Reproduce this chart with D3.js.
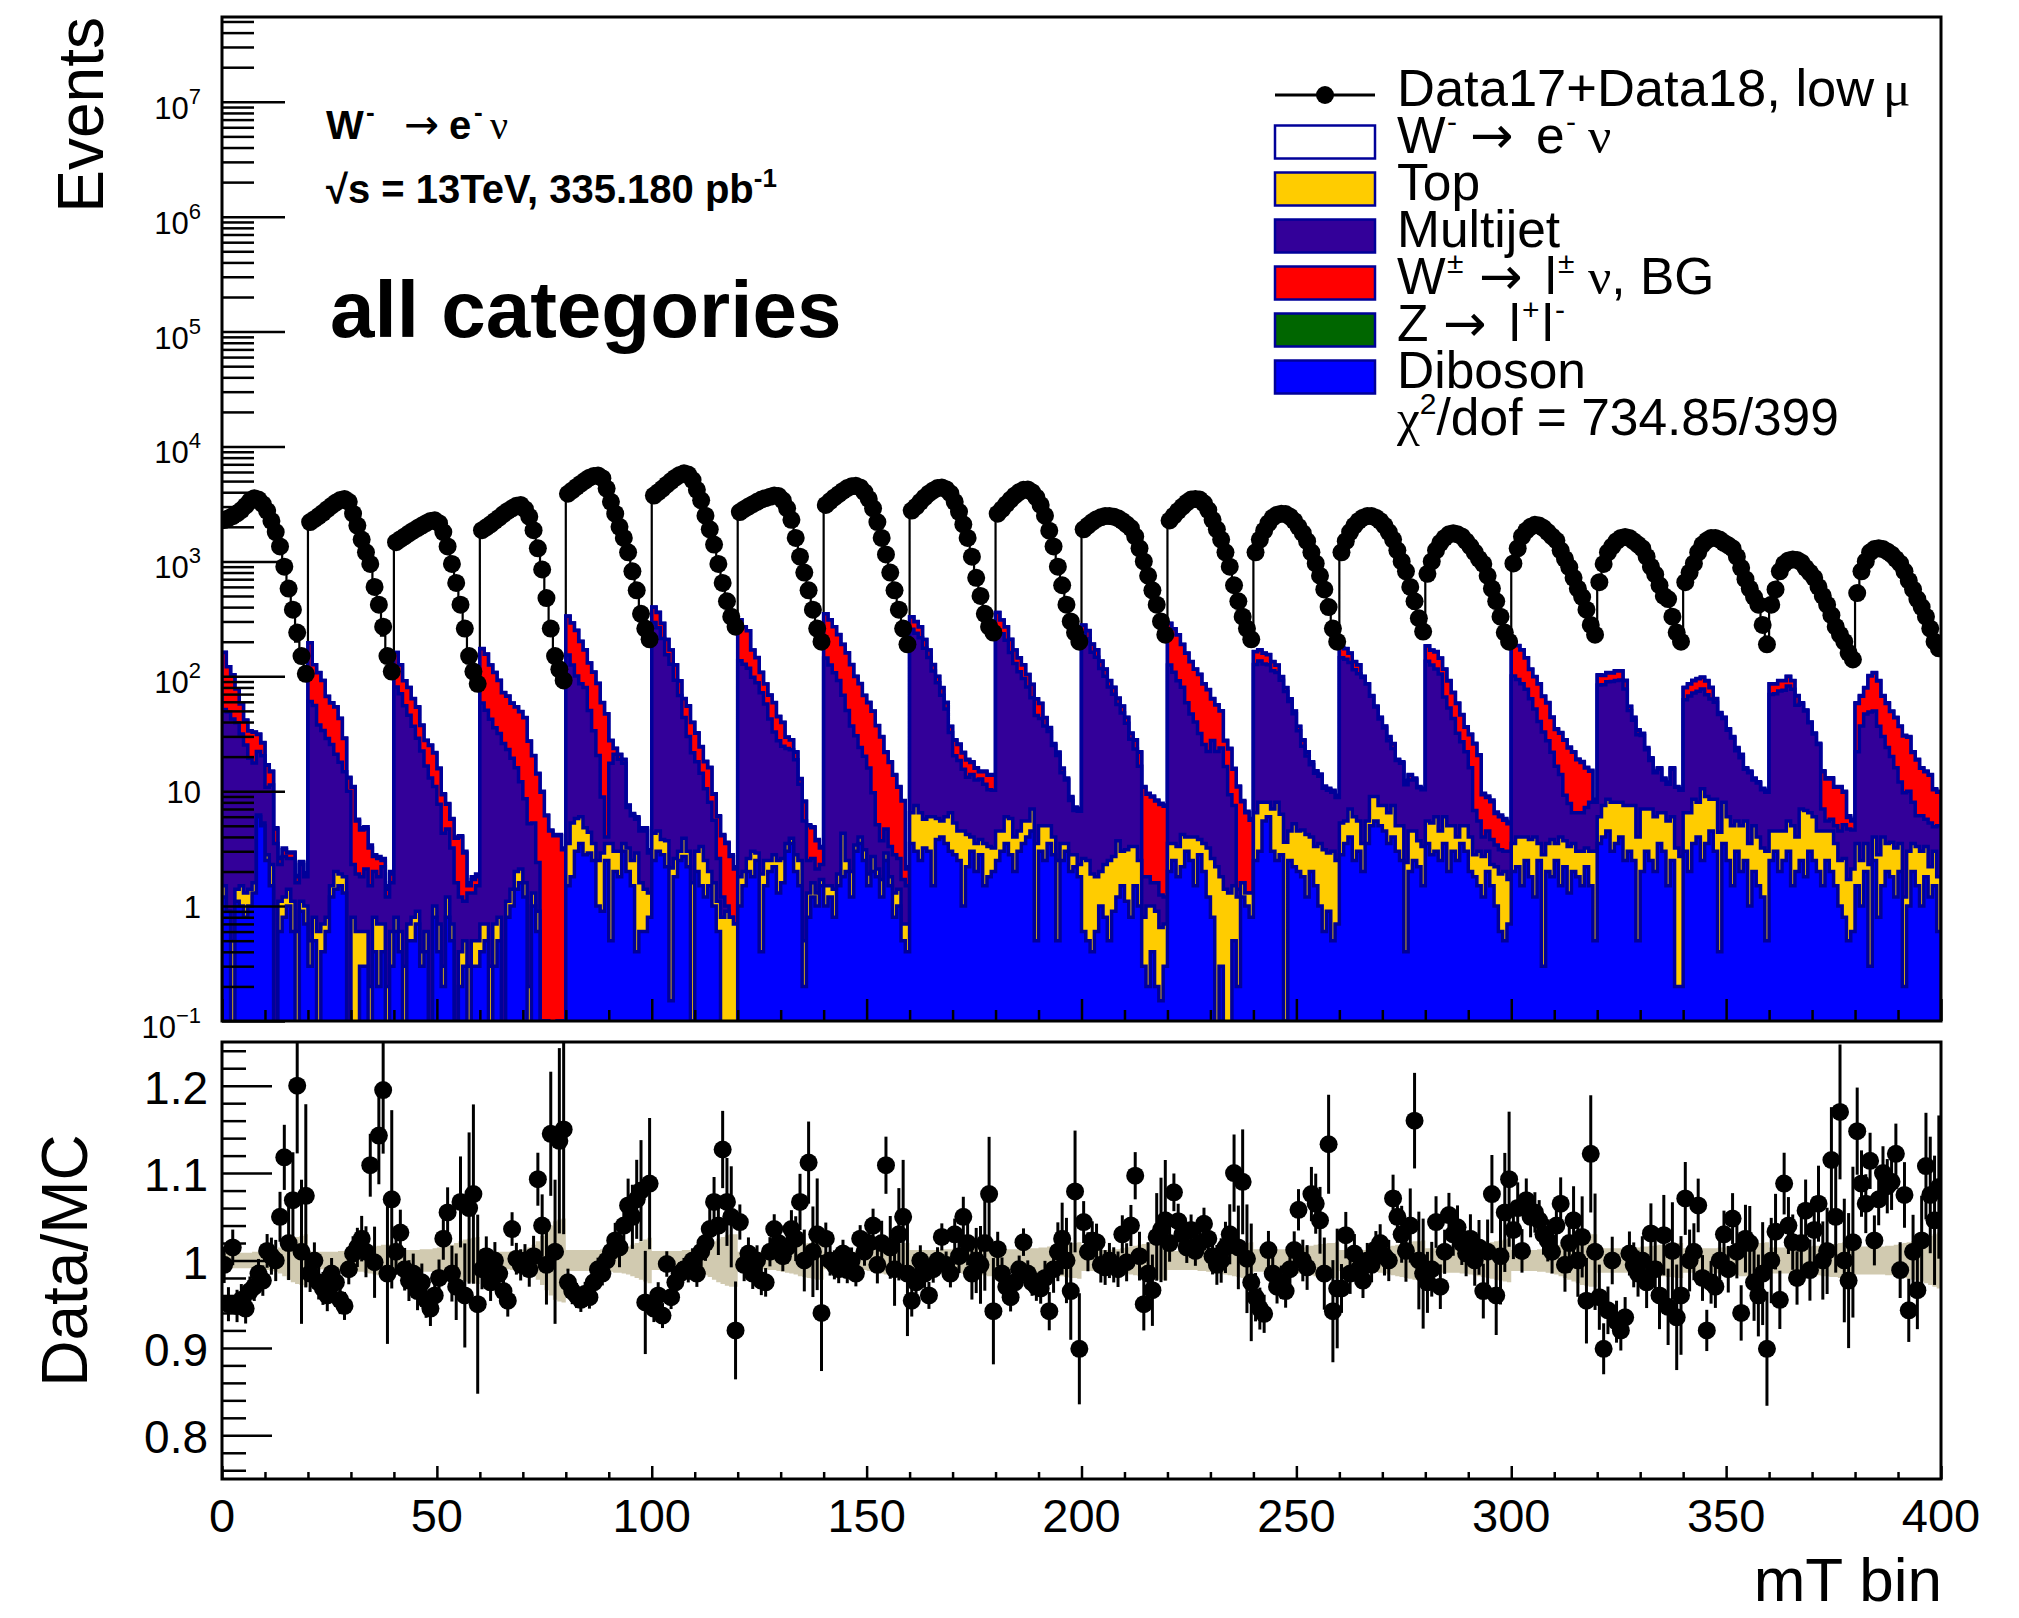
<!DOCTYPE html>
<html>
<head>
<meta charset="utf-8">
<script src="https://cdn.jsdelivr.net/npm/d3@7"></script>
<style>
  body { margin: 0; background: #fff; }
  text { font-family: "Liberation Sans", Arial, Helvetica, sans-serif; fill: #000; }
  .greek { font-family: "Liberation Serif", "DejaVu Serif", serif; }
  .arrow { font-family: "DejaVu Sans", sans-serif; font-weight: normal; }
</style>
</head>
<body>
<svg id="c" width="2019" height="1618"></svg>
<script>
// ---- per-bin contents: 20 categories x 20 mT bins ----
const dataCounts = [
2290,2380,2480,2620,2800,3050,3350,3550,3450,3150,2750,2250,1800,1350,900,580,380,240,150,105,
2200,2330,2480,2650,2850,3050,3250,3420,3500,3300,2600,2050,1550,1200,950,600,420,270,150,110,
1470,1560,1650,1750,1850,1950,2050,2150,2250,2280,2150,1800,1350,950,650,420,260,150,110,86,
1870,1980,2100,2250,2400,2580,2750,2900,3050,3100,2850,2450,1870,1300,850,480,260,150,115,92,
3880,4150,4450,4750,5050,5350,5550,5600,5300,4300,3300,2600,2000,1600,1200,820,560,350,260,210,
3740,4000,4300,4650,5000,5350,5650,5850,5700,5100,4200,3400,2500,1900,1400,950,650,450,330,270,
2690,2850,3000,3150,3300,3450,3550,3650,3750,3700,3400,2900,2300,1600,1100,800,560,380,260,200,
3100,3350,3600,3850,4100,4350,4500,4550,4400,4000,3500,2900,2200,1600,1150,800,560,380,260,190,
2770,3000,3300,3600,3900,4150,4350,4400,4250,3900,3300,2700,2100,1600,1100,720,500,350,270,240,
2600,2850,3150,3450,3750,4000,4200,4230,4000,3600,3100,2500,1850,1350,900,620,420,300,240,200,
1900,2050,2200,2330,2420,2480,2480,2450,2380,2250,2100,1950,1650,1300,1000,750,560,420,300,230,
2270,2500,2750,3000,3250,3450,3500,3450,3200,2800,2300,1900,1550,1200,900,620,450,330,260,210,
1200,1550,1850,2150,2400,2550,2600,2580,2450,2250,2000,1760,1500,1200,960,750,570,400,260,200,
1200,1500,1800,2050,2250,2400,2480,2480,2400,2250,2050,1800,1550,1250,1000,820,600,450,320,245,
780,1000,1250,1450,1600,1720,1760,1720,1650,1500,1350,1200,1050,950,750,580,450,330,240,200,
960,1300,1650,1850,2000,2080,2050,1950,1800,1650,1520,1250,1050,890,720,580,490,380,280,230,
660,950,1200,1350,1500,1600,1630,1600,1500,1400,1300,1100,900,770,620,500,470,330,240,200,
660,800,960,1200,1400,1520,1600,1600,1550,1450,1380,1300,1100,880,700,580,490,420,280,190,
420,570,820,950,1020,1040,1030,980,880,800,720,600,500,420,340,270,230,200,160,140,
530,820,1000,1200,1280,1300,1280,1220,1150,1050,960,820,680,570,470,400,330,260,200,175
];

// data / total MC
const ratioVals = [
0.995,0.950,1.015,0.948,0.955,0.945,0.965,0.970,0.985,0.977,1.011,1.005,1.000,1.050,1.118,1.020,1.069,1.200,1.010,1.074,
0.985,1.000,0.975,0.968,0.960,0.985,0.975,0.955,0.948,0.990,1.008,1.015,1.025,1.010,1.109,0.998,1.143,1.195,0.985,1.070,
1.010,1.032,0.990,0.977,0.985,0.965,0.975,0.955,0.945,0.960,0.980,1.025,1.055,0.985,0.970,1.067,0.960,1.060,1.076,0.950,
0.990,1.005,0.975,1.000,0.985,0.965,0.954,1.036,1.002,0.995,1.000,0.990,1.005,1.093,1.040,0.995,1.145,1.010,1.137,1.150,
0.975,0.965,0.960,0.955,0.962,0.958,0.975,0.990,0.985,1.000,1.010,1.023,1.015,1.040,1.063,1.050,1.070,1.080,0.952,1.088,
0.945,0.960,0.937,0.996,0.958,0.975,0.985,0.990,0.988,1.000,0.985,1.010,1.020,1.036,1.067,1.040,1.127,1.067,1.050,0.920,
1.044,0.995,1.008,0.985,1.000,0.977,0.975,1.010,1.036,1.020,1.005,1.015,1.036,1.025,1.067,1.000,1.112,1.010,1.030,0.940,
1.025,1.000,0.995,0.990,1.008,0.989,1.000,0.985,1.025,1.010,1.020,1.040,0.995,1.020,1.109,1.015,0.990,1.030,1.050,0.985,
0.954,0.975,1.000,0.985,0.960,0.990,1.000,1.027,0.995,0.985,1.030,1.005,1.050,1.020,0.985,1.000,0.995,1.020,1.076,0.942,
1.013,0.985,0.970,0.958,0.975,0.990,1.021,0.985,0.975,0.970,0.968,0.980,0.942,0.990,1.010,1.025,1.000,0.965,1.079,0.899,
1.044,1.010,1.023,1.021,0.995,0.992,1.000,0.995,0.990,1.030,0.998,1.040,1.097,1.005,0.950,0.985,0.966,1.027,1.035,1.046,
1.020,1.078,1.045,1.030,1.015,1.035,1.011,1.020,1.042,1.025,1.005,0.995,1.000,1.015,1.030,1.100,1.015,1.090,1.002,0.975,
0.958,0.945,0.939,1.012,0.985,0.970,0.975,0.965,0.990,1.012,1.058,1.000,0.992,1.076,1.065,1.046,0.985,1.133,0.942,0.968,
0.968,1.029,0.985,1.008,0.990,0.977,1.000,0.995,1.013,1.020,1.005,1.000,1.071,1.050,1.030,1.011,1.040,1.160,1.000,0.985,
0.975,0.990,1.044,0.970,1.010,1.052,1.030,1.038,1.020,1.008,1.025,1.000,1.015,0.965,1.010,1.076,0.960,1.005,1.055,1.093,
1.035,1.060,1.011,1.069,1.050,1.055,1.046,1.030,1.023,1.010,1.040,1.065,0.995,1.020,1.046,1.000,1.027,0.954,1.122,1.010,
0.958,0.899,0.943,1.000,0.930,0.920,0.935,1.008,0.995,0.985,1.000,0.975,1.031,0.990,0.960,1.029,0.947,1.011,0.935,0.960,
1.071,1.000,1.010,1.063,0.980,0.920,0.975,0.970,1.000,1.030,0.990,1.048,1.010,0.940,1.025,1.020,0.975,0.960,0.985,0.899,
1.000,1.033,0.955,1.088,1.040,1.021,0.980,1.020,1.057,0.989,1.035,1.065,1.000,1.011,1.115,1.050,1.170,1.000,0.977,1.021,
1.148,1.088,1.065,1.114,1.023,1.070,1.100,1.085,1.090,1.122,0.989,1.075,0.943,1.010,0.966,1.023,1.108,1.075,1.046,1.084
];

// relative MC uncertainty (half width of the band)
const mcUnc = [
.009,.009,.009,.009,.009,.009,.009,.010,.010,.010,.011,.012,.013,.015,.018,.022,.025,.027,.028,.030,
.010,.010,.010,.010,.010,.010,.010,.011,.011,.012,.012,.013,.013,.014,.015,.016,.017,.018,.018,.019,
.012,.012,.012,.012,.012,.012,.013,.013,.013,.014,.015,.016,.017,.018,.020,.022,.024,.025,.026,.027,
.010,.010,.010,.010,.010,.010,.010,.011,.011,.012,.013,.015,.018,.022,.028,.034,.040,.045,.047,.048,
.012,.012,.012,.012,.012,.012,.012,.012,.013,.013,.013,.014,.014,.015,.016,.018,.020,.022,.024,.026,
.011,.011,.011,.011,.011,.011,.011,.012,.012,.013,.014,.015,.017,.019,.022,.025,.027,.029,.030,.030,
.010,.010,.010,.010,.010,.010,.010,.011,.011,.012,.013,.014,.015,.016,.018,.019,.020,.021,.022,.022,
.010,.010,.010,.010,.010,.010,.010,.010,.011,.011,.012,.013,.014,.015,.016,.017,.018,.019,.020,.020,
.012,.012,.012,.012,.012,.012,.012,.013,.013,.013,.014,.014,.015,.015,.016,.016,.017,.017,.018,.018,
.013,.013,.013,.013,.013,.013,.013,.013,.014,.014,.015,.015,.016,.017,.018,.018,.019,.020,.020,.021,
.012,.012,.012,.012,.012,.012,.012,.013,.013,.014,.015,.016,.017,.018,.019,.020,.021,.022,.022,.023,
.011,.011,.011,.011,.011,.011,.011,.012,.012,.013,.013,.014,.015,.016,.017,.018,.019,.020,.020,.021,
.013,.013,.013,.013,.013,.013,.013,.013,.014,.014,.015,.015,.016,.017,.018,.019,.019,.020,.020,.021,
.012,.012,.012,.012,.012,.012,.012,.013,.013,.014,.015,.016,.017,.018,.019,.020,.021,.022,.022,.023,
.014,.014,.014,.014,.014,.014,.014,.014,.015,.015,.016,.017,.018,.019,.020,.021,.022,.023,.024,.025,
.012,.012,.012,.012,.012,.012,.013,.013,.014,.015,.016,.018,.020,.022,.024,.026,.028,.029,.030,.030,
.014,.014,.014,.014,.014,.014,.014,.014,.015,.015,.016,.016,.017,.017,.018,.018,.019,.019,.020,.020,
.014,.014,.014,.014,.014,.014,.014,.014,.015,.015,.016,.016,.017,.018,.018,.019,.019,.020,.020,.021,
.015,.015,.015,.015,.015,.015,.015,.015,.016,.016,.017,.017,.018,.018,.019,.019,.020,.021,.021,.022,
.016,.016,.016,.016,.016,.016,.016,.017,.017,.018,.019,.020,.021,.022,.023,.024,.026,.028,.030,.032
];

const dibosonVals = [
1.2,0.9,0,1.1,1.0,0.8,1.0,1.3,6,5,2.5,1.5,0,0.6,0.8,1.0,0.6,0,0.9,0.7,
0.3,0.5,0,0.4,0.6,1.2,1.4,1.5,1.3,0,0,0,0.3,0.3,0,0.4,0.2,0.4,0,0.3,
0.6,0.4,0,0.5,0.5,0.7,0.3,0.4,0,0.8,0.4,0.2,0.8,0.5,0,0.2,0.3,0,0.3,0.3,
0.4,0.5,0,0.3,0.5,0,0.8,1.0,1.4,1.6,1.2,0,1.0,0.6,0,0,0,0,0,0.1,
1.5,1.8,3.0,3.5,2.8,2.9,2.5,1.0,0.9,2.5,0.5,2.0,1.8,3.0,2.0,1.5,0.4,0.6,0.6,0.8,
2.5,3.0,2.8,2.2,0.15,1.8,2.5,2.7,2.2,0.1,2.0,1.5,1.2,1.5,1.0,0.6,0,0,0,0,
1.0,1.5,2.0,1.8,2.5,0.4,1.5,2.0,2.2,1.3,1.6,3.0,3.5,2.0,1.5,0.2,0.8,1.2,1.0,1.5,
1.0,1.2,0.8,1.5,1.8,2.0,1.2,3.0,3.5,2.5,1.5,2.0,1.8,1.2,2.5,1.5,0.8,1.0,0.5,0.4,
3.5,3.0,2.5,3.2,3.0,1.5,3.8,4.0,3.5,3.0,2.8,2.5,1.0,2.2,3.0,2.0,2.8,1.5,1.8,2.0,
2.5,3.0,3.5,2.8,2.0,3.0,3.5,4.0,4.5,0.5,3.0,2.5,3.5,2.8,0.5,2.5,3.0,2.0,2.2,1.8,
0.6,0.5,0.4,0.6,1.0,0.8,0.5,0.9,1.2,1.5,1.1,0.8,1.5,1.0,0.3,0.2,0.4,0.2,0.15,0.3,
2.0,2.5,1.8,2.2,3.0,2.5,1.5,2.8,2.0,1.2,0.8,0,0.3,0,0,0.5,0.2,1.2,1.0,0.8,
2.5,3.0,5.5,6.0,3.0,2.5,2.8,0.1,2.5,2.2,2.0,1.8,1.2,2.0,1.5,1.0,0.6,0.9,0.5,0.7,
2.8,3.5,4.0,2.5,3.0,2.0,3.5,5.0,5.5,5.0,4.5,3.5,4.0,3.0,2.5,0.4,2.0,2.5,2.2,1.5,
3.5,2.8,3.0,2.5,3.5,2.0,3.0,2.5,3.5,3.0,2.0,1.8,1.5,1.2,2.0,1.5,1.0,0.6,0.5,0.7,
2.0,2.2,1.5,2.5,1.8,1.2,2.5,0.3,2.0,1.8,2.5,1.5,2.2,1.3,2.0,1.8,1.5,2.2,1.5,0.5,
3.5,4.0,4.5,3.0,3.5,4.0,2.5,3.0,2.5,0.5,2.0,3.0,2.5,2.0,3.5,3.0,1.5,2.5,0.2,0.2,
3.0,2.0,3.5,4.0,2.5,3.5,4.5,3.0,0.4,3.5,2.5,1.5,3.0,2.0,2.5,1.0,2.0,1.5,1.2,0.5,
2.5,3.0,2.0,2.5,3.0,1.5,2.0,2.5,1.8,3.0,2.5,2.0,1.5,2.5,2.0,1.5,1.0,0.8,0.5,0.6,
1.5,1.0,2.0,0.3,2.5,0.8,1.5,2.0,1.8,1.2,2.0,0.2,1.0,2.0,1.5,1.0,1.8,1.2,1.5,0.6
];

const topVals = [
0.3,0,0.5,0.3,0.5,0.5,0.4,0.3,0.2,0.3,0.3,0.8,0,0.5,0.4,0.4,0.5,0.6,0.2,0.3,
0.2,0.3,0.6,0.3,0.2,0.3,0.6,0.4,0.5,0,0.8,0.6,0.3,0.3,0.2,0.4,0.5,0.3,0.2,0.3,
0.2,0.2,0.3,0.2,0.3,0.2,0.1,0.2,0,0.2,0.3,0.1,0.4,0.2,0.1,0.2,0.2,0.3,0.2,0.2,
0.3,0.2,0.3,0.4,0.3,0,0.3,0.4,0.6,0.5,0.4,0.2,0.3,0.3,0.1,0.1,0,0,0.1,0,
2.0,3.5,2.8,2.5,2.0,1.5,1.0,1.5,2.0,1.0,3.0,1.0,1.2,0.5,1.2,1.0,2.5,1.0,0.8,0.5,
1.8,1.5,1.0,1.5,2.0,0.8,0.5,1.2,0.8,1.5,1.0,1.8,1.3,0.5,0.6,0.5,0.8,0.9,0.8,0.7,
0.8,0.5,0.6,1.2,0.4,1.5,1.0,0.5,0.6,1.2,1.0,0.5,0.4,0.8,1.0,0.3,0.5,0.4,0.3,0.2,
0.5,0.3,0.6,0.4,2.5,0.5,0.8,0.4,0.5,0.6,0.4,0.7,0.3,0.5,0.4,0.3,0.5,0.4,0.2,0.3,
3.0,4.5,4.0,2.5,3.0,4.5,2.0,1.5,2.5,3.5,2.5,2.0,3.5,2.0,1.0,1.5,1.0,2.0,1.5,1.2,
2.0,1.5,2.5,3.0,2.0,1.5,2.0,1.5,2.5,3.0,2.0,2.5,1.5,1.2,2.0,1.0,0.5,0.8,0.6,0.5,
2.0,2.0,1.5,1.2,1.0,1.5,2.0,1.8,2.5,1.5,2.0,2.5,1.8,1.5,0.5,0.8,0.6,0.7,0.5,0.4,
1.5,1.0,1.5,2.0,1.0,1.5,2.5,1.0,1.5,2.0,1.8,2.2,1.5,1.4,1.3,1.0,1.0,0.4,0.3,0.5,
4.0,5.0,2.5,2.0,4.0,5.5,3.5,3.5,2.0,3.0,2.5,2.8,3.0,2.0,1.8,2.5,2.5,2.0,2.5,1.8,
2.5,2.0,3.0,3.5,2.5,1.5,2.0,4.0,3.5,2.5,3.0,3.0,3.5,2.0,2.5,2.0,2.5,2.0,1.5,1.8,
2.0,2.5,3.0,2.0,2.5,3.0,2.0,1.5,1.5,2.0,2.0,1.0,1.5,1.5,1.0,0.8,1.2,1.3,1.5,1.0,
1.5,1.8,2.5,1.5,2.0,2.8,1.0,2.5,1.5,2.0,1.0,2.5,1.5,2.0,1.5,1.2,1.5,1.0,1.5,2.5,
2.5,3.5,4.0,5.0,4.5,4.0,5.0,4.5,5.0,3.5,5.0,4.0,4.5,4.0,3.0,3.5,4.0,3.5,3.0,2.5,
3.5,4.5,5.0,4.0,8.0,5.5,4.0,5.5,4.0,4.5,3.5,3.5,2.5,3.0,3.0,2.5,3.0,2.5,2.0,2.5,
2.0,1.5,2.5,2.0,2.5,3.5,2.0,4.5,5.0,3.5,3.5,2.5,3.0,2.0,2.5,2.0,1.5,1.8,1.2,1.5,
2.0,1.5,1.5,2.0,1.5,2.0,2.5,1.5,1.8,2.0,1.5,1.0,2.0,1.5,1.8,2.0,1.5,1.0,1.5,1.2
];

const multijetVals = [
50,48,42,38,30,24,18,16,16,15,8,9,3.5,1.2,1.5,1.2,1.5,1.0,1.2,0.8,
60,55,37,33,28,24,19,16,13,10,1.5,1.3,1.2,1.5,1.3,1.2,1.1,1.5,1.0,1.0,
80,70,55,45,36,28,22,16,13,10,7,4,3.5,2.5,1.5,0.8,0.6,1.0,0.8,1.0,
58,50,42,35,31,26,22,18,14,10,7,5,4,1.5,0,0,0,0,0,0,
150,120,95,80,75,46,30,18,6,0.5,14,18,16,14,4,3.6,2.8,2.9,3.1,1.6,
290,260,210,150,125,90,65,40,27,20,15,11,8,6,4,1.5,0.4,0.1,0,0,
135,125,115,95,85,70,55,40,30,25,22,20,19,16,9,5,1.2,1.0,0.8,0.6,
143,124,106,90,64,48,35,27,20,17,14,7,3,2,1.8,1.5,1.5,1.2,1.0,0.8,
250,230,210,170,140,105,82,63,46,26,15,14,11,9,10,9,9,8,7,7,
250,230,200,155,125,105,90,75,58,42,38,32,28,21,18,11,9,5.5,4.0,4.4,
235,210,160,145,115,98,78,67,53,45,36,25,20,14,1.0,0.8,0.6,0.7,0.6,0.5,
122,105,88,76,55,43,36,28,22,19,25,20,22,15,8,6,0.2,0,0,0,
120,128,120,118,105,100,86,70,56,42,29,20,16,13,11,10,7.5,7.3,6.8,6.3,
140,135,125,108,100,94,80,58,45,35,28,21,16,13.5,12.5,9,8,8,7,7,
130,120,110,100,60,48,38,28,22,17,12,4,2.5,1.3,1.5,1.5,1.2,1.2,1.0,1.3,
97,90,82,73,60,48,37,30,24,18,13,10,5.5,4.5,3.0,3.5,3.5,4.0,5.0,5.0,
78,77,81,82,84,85,70,43,34,27,23.5,16,11.5,8.5,9,6,6,9.5,7.6,7.5,
56,61,63,66,67,60,55,51,42,35,28,24,17,14.5,10,11,7.5,7.8,7.1,6.8,
65,66,70,71,77,72,52,50,43,33,25.5,21,2.5,1.0,1.2,1.5,2.0,2.5,3.0,2.5,
18.5,34.5,43.5,46.5,46,34,26,20.5,16.4,12.8,8.5,8.5,7,4.5,2.8,3.1,2.4,3.1,1.9,3.2
];

const wbgVals = [
110,72,60,38,26,16,14,15,9,6,6,3.5,1.2,0.3,0.4,0.3,0.3,0.2,0.1,0.1,
135,70,70,58,38,33,33,25,14,3,8.5,3.6,2.8,2.6,1.7,0.7,0.8,0.3,0.2,0.3,
80,55,36,34,27,25,15,11,12,10.5,8,5,3,2.5,2.3,2.8,1.8,0.2,0.4,0.3,
115,105,83,72,60,46,44,39,38,37,35,22,15,11.7,9.7,6.0,4.5,4.1,4.0,3.0,
180,165,150,115,90,80,75,66,50,43,10,2.5,1.8,1.3,0.3,0.2,0.2,0.2,0.2,0.1,
105,95,75,55,42,33,23,20,25,18,14,10,7.5,8,3.8,3.4,2.9,2.5,1.9,1.4,
172,142,131,71,57,36,28,26,26,17,15,6,5,3,1.3,2.6,2.5,2.2,1.6,0.9,
205,184,162,138,121,109,89,69,62,48,43,40,32,26,17,14.5,11,8.2,6.5,0.6,
72,61,52,33,23,15,12,11,7,4,7.5,7,6,5.5,3.8,3.3,2.0,3.3,3.5,3.6,
104,74,63,48,40,35,30,23,20,18,15,6.5,2.5,0.7,1.2,1.2,0.3,0.5,0.3,0.2,
41,37,28,23,18,15,11,10,7.5,6.8,4.7,3.5,4.5,5.3,9.0,7.6,7.3,6.6,6.4,6.2,
163,150,138,109,100,87,75,72,60,54,36,34,26,11,14,8,9.5,6.5,5.2,4.3,
37,33,31,28,22,17,7,6,3,2.5,3,3.2,1.6,0.8,0.6,0.4,0.3,0.2,0.2,0.2,
33,33,27,20,20,2,0.3,0.5,0.7,1.2,1.2,2.2,2.2,0.3,0.3,0.8,1.3,0.3,0.1,0.1,
48,43,47,39,49,38,29,26,19,14,15,19,15,5.3,4.3,4.3,3.0,2.9,2.6,2.2,
98,90,83,67,51,47,45,34,31,22,18,18,18.5,16,15.3,12.3,11.3,8.7,6.9,0.2,
18,17,17.5,17,19,18,14,4,2.2,2.8,1.2,0.7,0.7,0.3,0.3,0.3,0.3,0.3,0.1,0.2,
17,18,20,21,20,22,16,4,1.7,0.7,0.7,0.7,1.2,1.2,0.3,0.3,0.3,0.1,0.1,0.1,
16,15,17,16,17,14.5,11.5,1.5,0.8,0.3,0.3,0.3,7.8,7.3,7.1,5.8,6.3,4.7,1.2,0.9,
36,30,32,52,57,54,37,34,29.5,27.5,24.5,20.5,19.5,13.7,12.6,9.7,9.1,8.5,5.4,4.8
];

const zllVals = [
0.5,0.4,0.4,0.3,0.3,0.3,0.2,0.2,0.2,0.2,0.2,0.2,0.1,0.05,0.1,0.05,0.05,0.05,0.05,0.05,
0.5,0.4,0.4,0.3,0.3,0.3,0.3,0.3,0.2,0.2,0.2,0.2,0.2,0.2,0.2,0.1,0.1,0.1,0.1,0.1,
0.5,0.4,0.3,0.3,0.3,0.3,0.2,0.2,0.2,0.2,0.2,0.2,0.1,0.1,0.1,0.1,0.1,0.1,0.1,0.1,
0.6,0.5,0.4,0.4,0.4,0.3,0.3,0.3,0.3,0.3,0.3,0.2,0.2,0.2,0.2,0.1,0.1,0.1,0.1,0.1,
1.0,0.9,0.8,0.6,0.5,0.4,0.4,0.3,0.3,0.3,0.2,0.2,0.2,0.2,0.1,0.1,0.1,0.1,0.1,0.1,
1.0,0.9,0.8,0.6,0.5,0.4,0.3,0.3,0.3,0.3,0.2,0.2,0.2,0.2,0.1,0.1,0.1,0.1,0.1,0.1,
1.0,0.9,0.8,0.6,0.5,0.4,0.4,0.3,0.3,0.3,0.3,0.2,0.2,0.2,0.1,0.1,0.1,0.1,0.1,0.1,
1.0,0.9,0.9,0.8,0.7,0.6,0.5,0.5,0.4,0.4,0.4,0.3,0.3,0.3,0.3,0.2,0.2,0.2,0.1,0.1,
1.2,1.0,0.9,0.8,0.6,0.5,0.4,0.4,0.4,0.3,0.3,0.3,0.3,0.3,0.2,0.2,0.2,0.2,0.2,0.2,
1.2,1.0,0.9,0.8,0.6,0.5,0.5,0.4,0.4,0.4,0.3,0.3,0.3,0.3,0.2,0.2,0.2,0.2,0.2,0.2,
1.0,0.9,0.8,0.7,0.6,0.5,0.5,0.4,0.4,0.4,0.3,0.3,0.3,0.3,0.2,0.2,0.2,0.2,0.2,0.2,
1.2,1.0,1.0,0.9,0.8,0.7,0.6,0.5,0.5,0.5,0.4,0.4,0.4,0.3,0.3,0.3,0.2,0.2,0.2,0.2,
1.0,0.9,0.8,0.8,0.7,0.6,0.5,0.4,0.4,0.3,0.3,0.3,0.2,0.2,0.2,0.2,0.2,0.2,0.2,0.2,
1.0,0.9,0.8,0.8,0.7,0.6,0.5,0.4,0.4,0.3,0.3,0.3,0.3,0.2,0.2,0.2,0.2,0.2,0.2,0.2,
1.2,1.0,1.0,0.9,0.8,0.7,0.6,0.5,0.5,0.4,0.4,0.4,0.3,0.3,0.3,0.3,0.2,0.2,0.2,0.2,
1.5,1.2,1.1,1.0,0.9,0.8,0.7,0.6,0.6,0.5,0.5,0.4,0.4,0.4,0.3,0.3,0.3,0.3,0.3,0.3,
1.0,0.9,1.0,1.0,1.0,1.0,0.8,0.5,0.4,0.4,0.3,0.3,0.3,0.2,0.2,0.2,0.2,0.2,0.1,0.1,
0.8,0.8,0.8,0.9,0.9,0.8,0.7,0.5,0.4,0.4,0.3,0.3,0.3,0.3,0.2,0.2,0.2,0.2,0.2,0.2,
0.6,0.6,0.6,0.6,0.6,0.5,0.5,0.4,0.4,0.3,0.3,0.3,0.3,0.3,0.3,0.2,0.2,0.2,0.2,0.2,
1.0,1.0,1.0,1.0,1.0,1.2,1.0,1.0,0.5,0.5,0.5,0.5,0.5,0.3,0.3,0.2,0.2,0.2,0.2,0.2
];

// axis tick values and labels
const xMajorTicks = [0, 50, 100, 150, 200, 250, 300, 350, 400];
const xMinorTicks = d3.range(0, 401, 10);
const yDecades = [-1, 0, 1, 2, 3, 4, 5, 6, 7];
const ratioMajorTicks = [0.8, 0.9, 1.0, 1.1, 1.2];
const ratioTickLabels = ["0.8", "0.9", "1", "1.1", "1.2"];

// ---- layout ----
const X0 = 222, X1 = 1941;
const MT = 17, MB = 1021;      // main pad frame
const RT = 1042, RB = 1479;    // ratio pad frame
const NAVY = "#000099";

const svg = d3.select("#c");
const x = d3.scaleLinear().domain([0, 400]).range([X0, X1]);
const y = d3.scaleLog().domain([0.1, 5.47e7]).range([MB, MT]);
const yr = d3.scaleLinear().domain([0.75, 1.25]).range([RB, RT]);

const defs = svg.append("defs");
defs.append("clipPath").attr("id", "clipMain")
  .append("rect").attr("x", X0).attr("y", MT).attr("width", X1 - X0).attr("height", MB - MT);
defs.append("clipPath").attr("id", "clipRatio")
  .append("rect").attr("x", X0).attr("y", RT).attr("width", X1 - X0).attr("height", RB - RT);

// ---- stacked histograms ----
const nBins = dataCounts.length;
const mcTotal = dataCounts.map((d, i) => d / ratioVals[i]);
const components = [dibosonVals, topVals, multijetVals, wbgVals, zllVals];
let running = new Array(nBins).fill(0);
const cumulative = components.map(c => (running = running.map((r, i) => r + c[i])));
cumulative.push(mcTotal);
const fills = ["#0000ff", "#ffcc00", "#330099", "#ff0000", "#006600", "#ffffff"];
const lineColors = [NAVY, NAVY, NAVY, NAVY, NAVY, "#000000"];
const lineWidths = [3.5, 3.5, 3.5, 3.5, 3.5, 2.2];

const ly = v => y(Math.max(v, 0.01));
const stepPts = arr => arr.map((v, i) => ({ i, v })).concat([{ i: arr.length, v: arr[arr.length - 1] }]);
const stepArea = d3.area().curve(d3.curveStepAfter)
  .x(d => x(d.i)).y0(1160).y1(d => ly(d.v));

const gMain = svg.append("g").attr("clip-path", "url(#clipMain)");
for (let k = cumulative.length - 1; k >= 0; k--) {
  gMain.append("path")
    .attr("d", stepArea(stepPts(cumulative[k])))
    .attr("fill", fills[k])
    .attr("stroke", lineColors[k])
    .attr("stroke-width", lineWidths[k])
    .attr("stroke-linejoin", "miter");
}

// data points
gMain.selectAll("circle.data").data(dataCounts).join("circle")
  .attr("class", "data")
  .attr("cx", (d, i) => x(i + 0.5))
  .attr("cy", d => y(d))
  .attr("r", 9)
  .attr("fill", "#000");

// ---- ratio pad ----
const gRatio = svg.append("g").attr("clip-path", "url(#clipRatio)");
const bandArea = d3.area().curve(d3.curveStepAfter)
  .x(d => x(d.i))
  .y0(d => yr(1 - d.v))
  .y1(d => yr(1 + d.v));
gRatio.append("path").attr("d", bandArea(stepPts(mcUnc))).attr("fill", "#d1cab0");

const ratioErr = ratioVals.map((r, i) => r / Math.sqrt(dataCounts[i]));
gRatio.selectAll("line.err").data(ratioVals).join("line")
  .attr("class", "err")
  .attr("x1", (d, i) => x(i + 0.5)).attr("x2", (d, i) => x(i + 0.5))
  .attr("y1", (d, i) => yr(d - ratioErr[i]))
  .attr("y2", (d, i) => yr(d + ratioErr[i]))
  .attr("stroke", "#000").attr("stroke-width", 3);
gRatio.selectAll("circle.ratio").data(ratioVals).join("circle")
  .attr("class", "ratio")
  .attr("cx", (d, i) => x(i + 0.5))
  .attr("cy", d => yr(d))
  .attr("r", 9)
  .attr("fill", "#000");

// ---- axes (inward ticks) ----
function ticks(gen, tx, ty, size, vals) {
  const g = svg.append("g").attr("transform", `translate(${tx},${ty})`)
    .call(gen.tickValues(vals).tickSize(size).tickFormat(""));
  g.select(".domain").remove();
  g.selectAll("line").attr("stroke", "#000").attr("stroke-width", 2.5);
  g.selectAll("text").remove();
}
const yMajor = yDecades.map(e => Math.pow(10, e));
const yMinor = [];
yDecades.forEach(e => { for (let k = 2; k <= 9; k++) { const v = k * Math.pow(10, e); if (v < 5.47e7) yMinor.push(v); } });
ticks(d3.axisRight(y), X0, 0, 63, yMajor);
ticks(d3.axisRight(y), X0, 0, 32, yMinor);
ticks(d3.axisTop(x), 0, MB, 22, xMajorTicks);
ticks(d3.axisTop(x), 0, MB, 11, xMinorTicks.filter(v => v % 50 !== 0));
ticks(d3.axisTop(x), 0, RB, 13, xMajorTicks);
ticks(d3.axisTop(x), 0, RB, 7, xMinorTicks.filter(v => v % 50 !== 0));
const ratioMinor = d3.range(0.76, 1.2401, 0.02).filter(v => Math.abs(v * 10 - Math.round(v * 10)) > 1e-6);
ticks(d3.axisRight(yr), X0, 0, 50, ratioMajorTicks);
ticks(d3.axisRight(yr), X0, 0, 24, ratioMinor);

// main y labels
yDecades.forEach(e => {
  const ty = y(Math.pow(10, e));
  if (e === 0 || e === 1) {
    svg.append("text").attr("x", 201).attr("y", ty + 12).attr("text-anchor", "end")
      .attr("font-size", 31).text(e === 0 ? "1" : "10");
  } else {
    const t = svg.append("text").attr("x", 201).attr("y", ty + 17).attr("text-anchor", "end").attr("font-size", 31);
    t.append("tspan").text("10");
    t.append("tspan").attr("dy", -15).attr("font-size", 22).text(e === -1 ? "\u22121" : String(e));
  }
});

// ratio y labels
ratioMajorTicks.forEach((v, k) => {
  svg.append("text").attr("x", 208).attr("y", yr(v) + 18).attr("text-anchor", "end")
    .attr("font-size", 46).text(ratioTickLabels[k]);
});

// x labels
xMajorTicks.forEach(v => {
  svg.append("text").attr("x", x(v)).attr("y", 1532).attr("text-anchor", "middle")
    .attr("font-size", 47).text(String(v));
});

// titles
svg.append("text").attr("x", X1 + 1).attr("y", 1601).attr("text-anchor", "end")
  .attr("font-size", 62).text("mT bin");
svg.append("text").attr("transform", "translate(103,17) rotate(-90)").attr("text-anchor", "end")
  .attr("font-size", 64).text("Events");
svg.append("text").attr("transform", `translate(87,${(RT + RB) / 2}) rotate(-90)`).attr("text-anchor", "middle")
  .attr("font-size", 64).text("Data/MC");

// frames
svg.append("rect").attr("x", X0).attr("y", MT).attr("width", X1 - X0).attr("height", MB - MT)
  .attr("fill", "none").attr("stroke", "#000").attr("stroke-width", 3);
svg.append("rect").attr("x", X0).attr("y", RT).attr("width", X1 - X0).attr("height", RB - RT)
  .attr("fill", "none").attr("stroke", "#000").attr("stroke-width", 3);

// ---- annotations ----
const t1 = svg.append("text").attr("y", 139).attr("font-size", 40).attr("font-weight", "bold");
t1.append("tspan").attr("x", 326).text("W");
t1.append("tspan").attr("x", 366).attr("dy", -18).attr("font-size", 26).text("-");
t1.append("tspan").attr("x", 404).attr("dy", 18).attr("class", "arrow").attr("font-size", 42).text("\u2192");
t1.append("tspan").attr("x", 449).text("e");
t1.append("tspan").attr("x", 474).attr("dy", -18).attr("font-size", 26).text("-");
t1.append("tspan").attr("x", 490).attr("dy", 18).attr("class", "greek").attr("font-weight", "normal").text("\u03bd");

const t2 = svg.append("text").attr("x", 326).attr("y", 203).attr("font-size", 40).attr("font-weight", "bold");
t2.append("tspan").text("\u221as = 13TeV, 335.180 pb");
t2.append("tspan").attr("dy", -16).attr("font-size", 26).text("-1");

svg.append("text").attr("x", 330).attr("y", 337).attr("font-size", 80).attr("font-weight", "bold")
  .text("all categories");

// ---- legend ----
const LX = 1275, LW = 100, LH = 33, TX = 1397;
const rows = [95, 142, 189, 236, 283, 330, 377, 424];
svg.append("line").attr("x1", LX).attr("x2", LX + LW).attr("y1", rows[0]).attr("y2", rows[0])
  .attr("stroke", "#000").attr("stroke-width", 3);
svg.append("circle").attr("cx", LX + LW / 2).attr("cy", rows[0]).attr("r", 9).attr("fill", "#000");
const boxFills = ["#ffffff", "#ffcc00", "#330099", "#ff0000", "#006600", "#0000ff"];
boxFills.forEach((f, k) => {
  svg.append("rect").attr("x", LX).attr("y", rows[k + 1] - LH / 2).attr("width", LW).attr("height", LH)
    .attr("fill", f).attr("stroke", NAVY).attr("stroke-width", 2.5);
});
const FS = 51.5, SUP = 30, AR = 52;
function legText(row) { return svg.append("text").attr("y", rows[row] + 11).attr("font-size", FS); }

let lt = legText(0);
lt.append("tspan").attr("x", TX).attr("font-size", 52.5).text("Data17+Data18, low");
lt.append("tspan").attr("x", 1883).attr("class", "greek").text("\u03bc");

lt = legText(1);
lt.append("tspan").attr("x", TX).text("W");
lt.append("tspan").attr("x", 1447).attr("dy", -21).attr("font-size", SUP).text("-");
lt.append("tspan").attr("x", 1470).attr("dy", 21).attr("class", "arrow").attr("font-size", AR).text("\u2192");
lt.append("tspan").attr("x", 1536).text("e");
lt.append("tspan").attr("x", 1566).attr("dy", -21).attr("font-size", SUP).text("-");
lt.append("tspan").attr("x", 1588).attr("dy", 21).attr("class", "greek").text("\u03bd");

legText(2).attr("x", TX).text("Top");
legText(3).attr("x", TX).text("Multijet");

lt = legText(4);
lt.append("tspan").attr("x", TX).text("W");
lt.append("tspan").attr("x", 1447).attr("dy", -21).attr("font-size", SUP).text("\u00b1");
lt.append("tspan").attr("x", 1479).attr("dy", 21).attr("class", "arrow").attr("font-size", AR).text("\u2192");
lt.append("tspan").attr("x", 1545).text("l");
lt.append("tspan").attr("x", 1558).attr("dy", -21).attr("font-size", SUP).text("\u00b1");
lt.append("tspan").attr("x", 1588).attr("dy", 21).attr("class", "greek").text("\u03bd");
lt.append("tspan").text(", BG");

lt = legText(5);
lt.append("tspan").attr("x", TX).text("Z");
lt.append("tspan").attr("x", 1443).attr("class", "arrow").attr("font-size", AR).text("\u2192");
lt.append("tspan").attr("x", 1509).text("l");
lt.append("tspan").attr("x", 1522).attr("dy", -21).attr("font-size", SUP).text("+");
lt.append("tspan").attr("x", 1542).attr("dy", 21).text("l");
lt.append("tspan").attr("x", 1555).attr("dy", -21).attr("font-size", SUP).text("-");

legText(6).attr("x", TX).text("Diboson");

lt = legText(7);
lt.append("tspan").attr("x", TX).attr("class", "greek").text("\u03c7");
lt.append("tspan").attr("dy", -21).attr("font-size", SUP).text("2");
lt.append("tspan").attr("dy", 21).text("/dof = 734.85/399");
</script>
</body>
</html>
